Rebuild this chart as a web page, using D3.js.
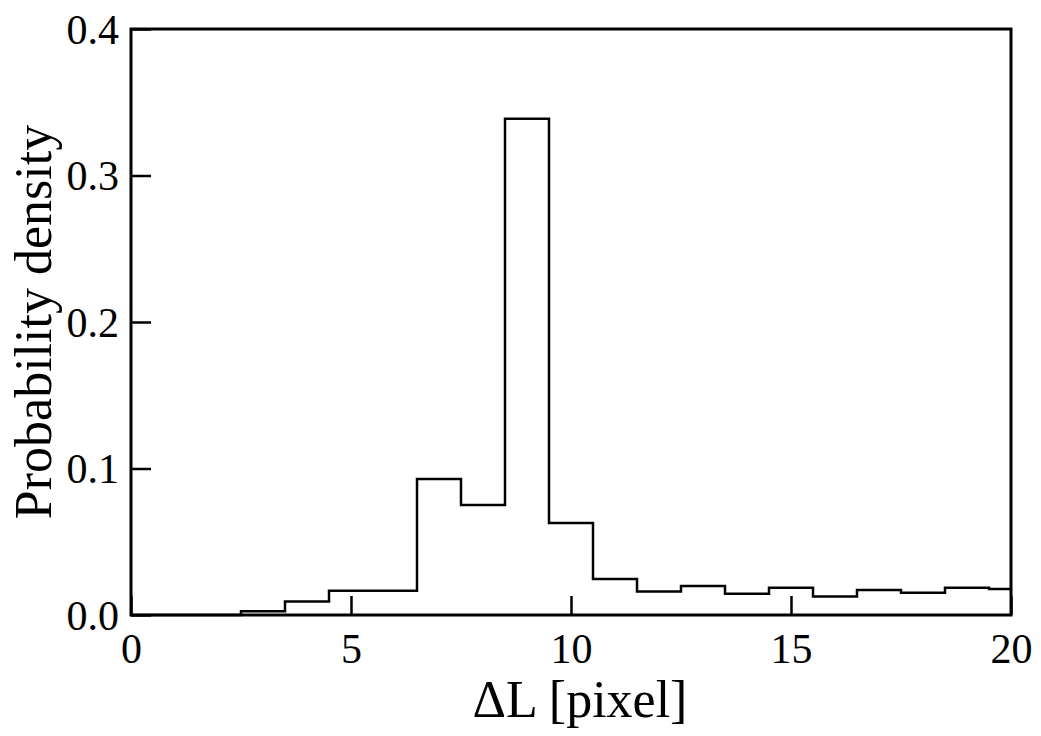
<!DOCTYPE html>
<html>
<head>
<meta charset="utf-8">
<script src="https://cdn.jsdelivr.net/npm/d3@7"></script>
<style>
  body { margin: 0; background: #fff; }
  text { font-family: "Liberation Serif", "Times New Roman", serif; fill: #000; }
</style>
</head>
<body>
<svg id="chart" width="1041" height="736"></svg>
<script>
// bin centres (width 1, edges at half integers) and probability density
var binCenters = [0, 1, 2, 3, 4, 5, 6, 7, 8, 9, 10, 11, 12, 13, 14, 15, 16, 17, 18, 19, 20];
var density = [0, 0, 0, 0.0025, 0.0093, 0.0166, 0.0166, 0.0928, 0.0751, 0.3388, 0.0628,
               0.0246, 0.0161, 0.0198, 0.0145, 0.0186, 0.0127, 0.0171, 0.0152, 0.0186, 0.0177];
var xTicks = [0, 5, 10, 15, 20];
var yTicks = [0, 0.1, 0.2, 0.3, 0.4];

var svg = d3.select("#chart");
var margin = {left: 131, top: 29, right: 30, bottom: 121};
var width = 1041 - margin.left - margin.right,
    height = 736 - margin.top - margin.bottom;

var x = d3.scaleLinear().domain([0, 20]).range([0, width]);
var y = d3.scaleLinear().domain([0, 0.4]).range([height, 0]);

var g = svg.append("g").attr("transform", "translate(" + margin.left + "," + margin.top + ")");

// histogram as a step outline
var pts = [[0, 0]];
binCenters.forEach(function(c, i) {
    var lo = Math.max(0, c - 0.5), hi = Math.min(20, c + 0.5);
    pts.push([lo, density[i]]);
    pts.push([hi, density[i]]);
});
var line = d3.line().x(function(d) { return x(d[0]); }).y(function(d) { return y(d[1]); });

g.append("path")
    .attr("d", line(pts))
    .attr("fill", "none")
    .attr("stroke", "#000")
    .attr("stroke-width", 2.5)
    .attr("stroke-linejoin", "miter");

// axes with inward ticks
var xAxis = g.append("g")
    .attr("transform", "translate(0," + height + ")")
    .call(d3.axisBottom(x).tickValues(xTicks).tickSize(-19).tickFormat(d3.format("d")));
var yAxis = g.append("g")
    .call(d3.axisLeft(y).tickValues(yTicks).tickSize(-20).tickFormat(d3.format(".1f")));

[xAxis, yAxis].forEach(function(a) {
    a.select(".domain").remove();
    a.selectAll(".tick line").attr("stroke", "#000").attr("stroke-width", 2.5);
    a.selectAll(".tick text")
        .style("font-family", "'Liberation Serif', 'Times New Roman', serif")
        .style("font-size", "42px")
        .attr("fill", "#000");
});
xAxis.selectAll(".tick text").attr("dy", "0").attr("y", 48);
yAxis.selectAll(".tick text").attr("x", -12).attr("dy", "0.34em");

// frame
g.append("rect")
    .attr("width", width)
    .attr("height", height)
    .attr("fill", "none")
    .attr("stroke", "#000")
    .attr("stroke-width", 3);

// axis titles
svg.append("text")
    .attr("x", 580)
    .attr("y", 717)
    .attr("text-anchor", "middle")
    .style("font-size", "52px")
    .text("\u0394L [pixel]");

svg.append("text")
    .attr("transform", "translate(51,322) rotate(-90)")
    .attr("text-anchor", "middle")
    .style("font-size", "52px")
    .text("Probability density");
</script>
</body>
</html>
